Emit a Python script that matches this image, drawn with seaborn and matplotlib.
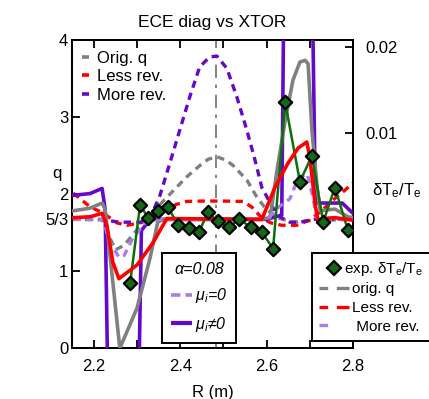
import numpy as np
import pandas as pd
import matplotlib
matplotlib.use("Agg")
import matplotlib.pyplot as plt
import seaborn as sns
from matplotlib.lines import Line2D
from matplotlib.legend_handler import HandlerLine2D

# ---------------- data ----------------
# q profiles (left axis)
R_q_orig = [2.15, 2.22, 2.235, 2.25, 2.27, 2.31, 2.34, 2.37, 2.415, 2.446, 2.465, 2.485, 2.505, 2.522, 2.554, 2.577, 2.60, 2.63, 2.66, 2.70, 2.80]
q_orig = [1.667, 1.66, 1.45, 1.27, 1.33, 1.60, 1.78, 1.96, 2.22, 2.37, 2.45, 2.48, 2.44, 2.37, 2.18, 1.96, 1.79, 1.68, 1.63, 1.65, 1.667]

R_q_less = [2.152, 2.191, 2.221, 2.254, 2.277, 2.314, 2.353, 2.39, 2.415, 2.45, 2.50, 2.545, 2.565, 2.59, 2.61, 2.635, 2.67, 2.70, 2.73, 2.754, 2.78, 2.80]
q_less = [2.01, 1.83, 1.75, 1.62, 1.59, 1.63, 1.75, 1.86, 1.90, 1.905, 1.905, 1.90, 1.83, 1.68, 1.62, 1.59, 1.59, 1.66, 1.79, 1.92, 2.04, 2.14]

R_q_more = [2.152, 2.214, 2.26, 2.307, 2.33, 2.353, 2.376, 2.399, 2.422, 2.445, 2.468, 2.485, 2.508, 2.531, 2.554, 2.573, 2.589, 2.613, 2.631, 2.654, 2.677, 2.712, 2.80]
q_more = [1.667, 1.667, 1.63, 1.63, 1.68, 1.98, 2.40, 2.83, 3.26, 3.65, 3.78, 3.79, 3.63, 3.26, 2.83, 2.44, 2.08, 1.83, 1.70, 1.63, 1.63, 1.667, 1.667]

R_axis = 2.482  # magnetic axis (dash-dot vertical line)

# delta Te / Te (right axis)
R_exp = [2.284, 2.307, 2.325, 2.348, 2.372, 2.395, 2.420, 2.443, 2.464, 2.487, 2.512, 2.537, 2.563, 2.589, 2.615, 2.643, 2.677, 2.705, 2.731, 2.758, 2.788]
dT_exp = [-0.0074, 0.0017, 0.0002, 0.0010, 0.0014, -0.0007, -0.0010, -0.0015, 0.0008, -0.0002, -0.0009, 0.0, -0.0009, -0.0015, -0.0034, 0.0136, 0.0044, 0.0074, -0.0003, 0.0037, -0.0012]

R_sim_orig = [2.152, 2.191, 2.219, 2.226, 2.260, 2.300, 2.330, 2.348, 2.362, 2.585, 2.608, 2.624, 2.643, 2.661, 2.677, 2.689, 2.696, 2.705, 2.717, 2.724, 2.758, 2.788, 2.80]
dT_sim_orig = [0.0010, 0.0013, 0.0019, 0.0012, -0.0150, -0.0103, -0.0045, -0.0003, 0.0, 0.0, 0.0002, 0.0057, 0.0115, 0.0162, 0.0183, 0.0185, 0.0181, 0.0103, 0.0037, 0.0010, 0.0012, 0.0003, 0.0002]

R_sim_less = [2.152, 2.191, 2.219, 2.230, 2.244, 2.258, 2.300, 2.337, 2.369, 2.589, 2.619, 2.649, 2.673, 2.693, 2.700, 2.712, 2.719, 2.731, 2.758, 2.80]
dT_sim_less = [0.0002, 0.0003, 0.0007, -0.0007, -0.0050, -0.0069, -0.0053, -0.0027, 0.0001, 0.0, 0.0037, 0.0065, 0.0083, 0.0090, 0.0072, 0.0019, -0.0003, 0.0001, 0.0002, -0.0001]

R_sim_more = [2.152, 2.191, 2.219, 2.226, 2.245, 2.290, 2.310, 2.330, 2.600, 2.635, 2.650, 2.690, 2.713, 2.775, 2.80]
dT_sim_more = [0.0028, 0.0030, 0.0036, 0.0012, -0.06, -0.06, -0.0013, 0.0, 0.0, 0.0005, 0.08, 0.08, 0.0019, 0.0019, 0.0007]

R_sim_more_mu0 = [2.152, 2.222, 2.235, 2.245, 2.258, 2.270, 2.290, 2.320, 2.350, 2.600, 2.627, 2.654, 2.673, 2.694, 2.707, 2.716, 2.74, 2.80]
dT_sim_more_mu0 = [0.0, 0.0, -0.0025, -0.0033, -0.0044, -0.0042, -0.0022, -0.0003, 0.0, 0.0, 0.0014, 0.0024, 0.0048, 0.0053, 0.0026, 0.0002, 0.0, 0.0]

q_ticks = [0, 1, 5 / 3, 2, 3, 4]
q_ticklabels = ["0", "1", "5/3", "2", "3", "4"]
dT_ticks = [0, 0.01, 0.02]
dT_ticklabels = ["0", "0.01", "0.02"]
R_ticks = [2.2, 2.4, 2.6, 2.8]
R_minor = [2.3, 2.5, 2.7]

# ---------------- style ----------------
plt.rcParams["font.family"] = ["Liberation Sans", "DejaVu Sans"]
plt.rcParams["mathtext.fontset"] = "custom"
plt.rcParams["mathtext.rm"] = "Liberation Sans"
plt.rcParams["mathtext.it"] = "Liberation Sans:italic"
plt.rcParams["mathtext.bf"] = "Liberation Sans:bold"

GRAY = "#808080"
RED = "#ff0000"
PURPLE = "#6608cc"
LPURPLE = "#a67ee6"
GREEN = "#0b700b"
DFACE = "#16661a"

fig = plt.figure(figsize=(4.29, 3.99), dpi=100)
ax = fig.add_axes([72.3 / 429, 1 - 347.5 / 399, (353 - 72.3) / 429, (347.5 - 40) / 399])
ax2 = ax.twinx()

# q profiles (dashed)
ax.axvline(R_axis, color="#707070", lw=1.2, ls=(0, (8, 4, 2, 4)), zorder=1)
sns.lineplot(x=R_q_orig, y=q_orig, ax=ax, color=GRAY, lw=2.4, ls=(0, (2.2, 1.6)), sort=False, estimator=None, legend=False)
sns.lineplot(x=R_q_less, y=q_less, ax=ax, color=RED, lw=2.4, ls=(0, (2.2, 1.6)), sort=False, estimator=None, legend=False)
sns.lineplot(x=R_q_more, y=q_more, ax=ax, color=PURPLE, lw=2.4, ls=(0, (2.2, 1.6)), sort=False, estimator=None, legend=False)

# delta Te / Te
sns.lineplot(x=R_sim_more, y=dT_sim_more, ax=ax2, color=PURPLE, lw=2.6, sort=False, estimator=None, legend=False, zorder=3)
sns.lineplot(x=R_sim_orig, y=dT_sim_orig, ax=ax2, color=GRAY, lw=2.6, sort=False, estimator=None, legend=False, zorder=3.1)
sns.lineplot(x=R_sim_more_mu0, y=dT_sim_more_mu0, ax=ax2, color=LPURPLE, lw=2.4, ls=(0, (2.2, 1.6)), sort=False, estimator=None, legend=False, zorder=3.2)
sns.lineplot(x=R_exp, y=dT_exp, ax=ax2, color=GREEN, lw=1.8, sort=False, estimator=None, legend=False, zorder=3.3)
sns.lineplot(x=R_sim_less, y=dT_sim_less, ax=ax2, color=RED, lw=2.6, sort=False, estimator=None, legend=False, zorder=3.4)
sns.scatterplot(x=R_exp, y=dT_exp, ax=ax2, marker="D", s=46, color=DFACE, edgecolor="black", linewidth=1.6, zorder=4, legend=False)

# axes limits / ticks
k = 0.01 * 76.9 / 86.0
ax.set_xlim(2.15, 2.8)
ax.set_ylim(0, 4)
ax2.set_ylim(-5 / 3 * k, (4 - 5 / 3) * k)

ax.set_xticks(R_ticks)
ax.set_xticklabels([f"{v:.1f}" for v in R_ticks])
ax.set_xticks(R_minor, minor=True)
ax.set_yticks(q_ticks)
ax.set_yticklabels(q_ticklabels)
ax2.set_yticks(dT_ticks)
ax2.set_yticklabels(dT_ticklabels)

ax.tick_params(axis="x", which="both", direction="in", top=True, bottom=True, length=6, width=1.3, labelsize=12, pad=8.5)
ax.tick_params(axis="y", direction="in", length=6, width=1.3, labelsize=12, pad=3)
ax2.tick_params(axis="y", direction="in", length=6, width=1.3, labelsize=12, pad=9)
for a in (ax, ax2):
    for s in a.spines.values():
        s.set_linewidth(1.4)

ax.set_xlabel("R (m)", fontsize=12, labelpad=8)
ax.set_ylabel("q", fontsize=12, rotation=0, va="center", ha="center")
ax.yaxis.set_label_coords(-0.055, 0.567)
ax2.set_ylabel("δT$_\\mathrm{e}$/T$_\\mathrm{e}$", fontsize=12, rotation=0, va="center", ha="center")
ax2.yaxis.set_label_coords(1.157, 0.51)
ax.set_title("ECE diag vs XTOR", fontsize=12.5, pad=9)

# top-left legend: q profiles
h_q = [Line2D([], [], color=c, lw=2.6, solid_capstyle="butt") for c in (GRAY, RED, PURPLE)]
leg1 = ax.legend(h_q, ["Orig. q", "Less rev.", "More rev."], loc="upper left",
                 bbox_to_anchor=(82 / 429, 1 - 51 / 399), bbox_transform=fig.transFigure,
                 frameon=False, fontsize=12, handlelength=0.42, handletextpad=0.5,
                 labelspacing=0.2, borderpad=0, borderaxespad=0)

# inset legend: alpha / mu_i
h_mu = [Line2D([], [], color=LPURPLE, lw=2.6, ls=(0, (2.6, 1.4))),
        Line2D([], [], color=PURPLE, lw=3.0, solid_capstyle="butt")]
leg2 = ax2.legend(h_mu, ["$\\mu_i$=0", "$\\mu_i$≠0"], loc="upper left",
                  bbox_to_anchor=(162 / 429, 1 - 253 / 399), bbox_transform=fig.transFigure,
                  title="α=0.08", handlelength=1.3, handletextpad=0.2,
                  labelspacing=0.6, borderpad=0.55, borderaxespad=0, fancybox=False,
                  framealpha=1, edgecolor="black",
                  prop={"style": "italic", "size": 11.5},
                  title_fontproperties={"style": "italic", "size": 11.5})
leg2.get_frame().set_linewidth(1.4)
leg2.set_zorder(10)


class LeftMarker(HandlerLine2D):
    def get_xdata(self, legend, xdescent, ydescent, width, height, fontsize):
        xdata, _ = super().get_xdata(legend, xdescent, ydescent, width, height, fontsize)
        return xdata, np.array([-xdescent + 0.12 * width])


h_exp = Line2D([], [], marker="D", ls="none", markersize=6.8, markerfacecolor=DFACE,
               markeredgecolor="black", markeredgewidth=1.6)
h_o = Line2D([], [], color=GRAY, lw=2.4, ls=(0, (2.6, 2.6, 4.6, 10)))
h_l = Line2D([], [], color=RED, lw=2.4, ls=(0, (2.6, 2.6, 4.6, 10)))
h_m = Line2D([], [], color=LPURPLE, lw=2.4, ls=(0, (2.6, 20)))
leg3 = fig.legend([h_exp, h_o, h_l, h_m],
                  ["exp. δT$_\\mathrm{e}$/T$_\\mathrm{e}$", "orig. q", "Less rev.", " More rev."],
                  loc="upper left", bbox_to_anchor=(312 / 429, 1 - 253 / 399),
                  fontsize=11, handlelength=1.95, handletextpad=0.2, labelspacing=0.3,
                  borderpad=0.45, borderaxespad=0, fancybox=False, framealpha=1,
                  edgecolor="black", handler_map={h_exp: LeftMarker(numpoints=1)})
leg3.get_frame().set_linewidth(1.4)
leg3.set_zorder(10)
leg3.get_texts()[0].set_x(-8)

fig.savefig("out.png", dpi=100)
